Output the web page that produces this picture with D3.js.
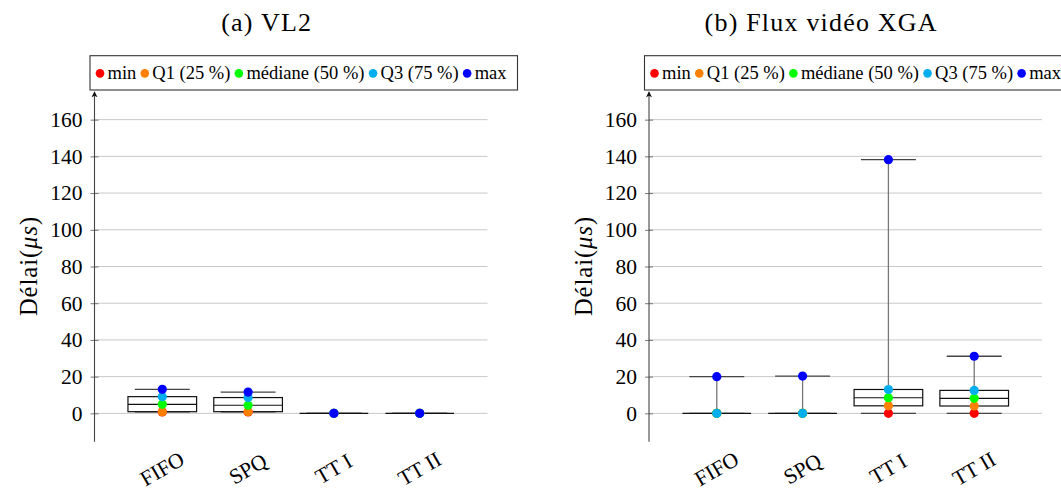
<!DOCTYPE html>
<html>
<head>
<meta charset="utf-8">
<script src="https://cdn.jsdelivr.net/npm/d3@7"></script>
<style>
  html, body { margin: 0; padding: 0; background: #fff; }
  svg { display: block; }
  text { font-family: "Liberation Serif", "Times New Roman", serif; fill: #000; }
</style>
</head>
<body>
<svg id="chart" width="1061" height="501"></svg>
<script>
// ---------- data ----------
const categories = ["FIFO", "SPQ", "TT I", "TT II"];
const legendLabels = ["min", "Q1 (25 %)", "médiane (50 %)", "Q3 (75 %)", "max"];
const legendColors = ["#ff0000", "#ff8000", "#00ff00", "#00aeef", "#0000ff"];
const yTicks = [0, 20, 40, 60, 80, 100, 120, 140, 160];
const panelTitles = ["(a) VL2", "(b) Flux vidéo XGA"];

// panel (a) VL2
const vl2Min    = [0.8, 0.8, 0, 0];
const vl2Q1     = [0.9, 0.9, 0, 0];
const vl2Median = [4.9, 4.4, 0, 0];
const vl2Q3     = [9.1, 8.6, 0, 0];
const vl2Max    = [13.1, 11.6, 0, 0];

// panel (b) Flux vidéo XGA
const xgaMin    = [0, 0, 0, 0];
const xgaQ1     = [0, 0, 4.1, 4.0];
const xgaMedian = [0, 0, 8.5, 8.2];
const xgaQ3     = [0, 0, 13.0, 12.5];
const xgaMax    = [20.0, 20.3, 138.2, 31.1];

const panels = [
  { title: panelTitles[0], min: vl2Min, q1: vl2Q1, med: vl2Median, q3: vl2Q3, max: vl2Max },
  { title: panelTitles[1], min: xgaMin, q1: xgaQ1, med: xgaMedian, q3: xgaQ3, max: xgaMax }
];

// ---------- layout ----------
const svg = d3.select("#chart");
const serif = "'Liberation Serif', 'Times New Roman', serif";
const panelOffset = 554.5;
const axisX = 94.5, plotRight = 487.5;
const yTop = 91.2, yBottom = 441.8;

const x = d3.scaleLinear().domain([0.21, 4.79]).range([axisX, plotRight]);
const y = d3.scaleLinear().domain([-15.5, 175.5]).range([yBottom, yTop]);
const unit = x(1) - x(0);
const boxW = 0.8 * unit;
const capW = 0.64 * unit;

panels.forEach((p, pi) => {
  const g = svg.append("g").attr("transform", `translate(${pi * panelOffset},0)`);

  // title
  g.append("text")
    .attr("x", 266.7).attr("y", 22)
    .attr("text-anchor", "middle").attr("dominant-baseline", "central")
    .style("font-size", "26px").style("letter-spacing", "1.2px")
    .text(p.title);

  // grid
  g.append("g").selectAll("line").data(yTicks).join("line")
    .attr("x1", axisX).attr("x2", plotRight)
    .attr("y1", d => y(d)).attr("y2", d => y(d))
    .attr("stroke", "#c8c8c8").attr("stroke-width", 1);

  // y axis with ticks
  const ax = g.append("g").attr("transform", `translate(${axisX},0)`)
    .call(d3.axisLeft(y).tickValues(yTicks).tickSize(4).tickPadding(8))
    .attr("font-family", serif);
  ax.select(".domain").remove();
  ax.selectAll(".tick line").attr("x1", -4).attr("x2", 4).attr("stroke", "#777");
  ax.selectAll(".tick text").style("font-size", "21.5px")
    .style("font-family", serif).attr("fill", "#000");

  g.append("line")
    .attr("x1", axisX).attr("x2", axisX)
    .attr("y1", y(-15.5)).attr("y2", y(175.5) + 1)
    .attr("stroke", "#444").attr("stroke-width", 1.1);
  const tipY = y(175.5);
  g.append("path")
    .attr("d", `M${axisX},${tipY} L${axisX - 3},${tipY + 6} L${axisX},${tipY + 4.5} L${axisX + 3},${tipY + 6} Z`)
    .attr("fill", "#111");

  // y label
  const yl = g.append("text")
    .attr("transform", `translate(28.3,266) rotate(-90)`)
    .attr("text-anchor", "middle").attr("dominant-baseline", "central")
    .style("font-size", "24.5px").style("letter-spacing", "1px");
  yl.append("tspan").text("Délai(");
  yl.append("tspan").style("font-style", "italic").text("μs");
  yl.append("tspan").text(")");

  // x labels
  g.append("g").selectAll("text").data(categories).join("text")
    .attr("transform", (d, i) => `translate(${x(i + 1)},469) rotate(-30)`)
    .attr("text-anchor", "middle").attr("dominant-baseline", "central")
    .style("font-size", "21.5px")
    .text(d => d);

  // boxes
  const bg = g.append("g");
  categories.forEach((c, i) => {
    const cx = x(i + 1);
    const b = bg.append("g");
    // whiskers
    b.append("line").attr("x1", cx).attr("x2", cx)
      .attr("y1", y(p.q3[i])).attr("y2", y(p.max[i]))
      .attr("stroke", "#777").attr("stroke-width", 1.3);
    b.append("line").attr("x1", cx).attr("x2", cx)
      .attr("y1", y(p.min[i])).attr("y2", y(p.q1[i]))
      .attr("stroke", "#777").attr("stroke-width", 1.3);
    // caps
    [p.max[i], p.min[i]].forEach(v => {
      b.append("line").attr("x1", cx - capW / 2).attr("x2", cx + capW / 2)
        .attr("y1", y(v)).attr("y2", y(v))
        .attr("stroke", "#444").attr("stroke-width", 1.3);
    });
    // box
    b.append("rect")
      .attr("x", cx - boxW / 2).attr("width", boxW)
      .attr("y", y(p.q3[i])).attr("height", Math.max(0, y(p.q1[i]) - y(p.q3[i])))
      .attr("fill", "none").attr("stroke", "#111").attr("stroke-width", 1.2);
    // median
    b.append("line").attr("x1", cx - boxW / 2).attr("x2", cx + boxW / 2)
      .attr("y1", y(p.med[i])).attr("y2", y(p.med[i]))
      .attr("stroke", "#111").attr("stroke-width", 1.2);
    // points
    const vals = [p.min[i], p.q1[i], p.med[i], p.q3[i], p.max[i]];
    b.selectAll("circle").data(vals).join("circle")
      .attr("cx", cx).attr("cy", d => y(d)).attr("r", 4.6)
      .attr("fill", (d, k) => legendColors[k]);
  });

  // legend
  const lg = g.append("g");
  const lx = 90, ly = 55.7, lw = 427.5, lh = 34.3;
  lg.append("rect").attr("x", lx).attr("y", ly).attr("width", lw).attr("height", lh)
    .attr("fill", "#fff").attr("stroke", "#333").attr("stroke-width", 1.1);
  let cur = lx + 10;
  const cy = ly + lh / 2 + 0.5;
  legendLabels.forEach((lab, k) => {
    lg.append("circle").attr("cx", cur).attr("cy", cy).attr("r", 4.3).attr("fill", legendColors[k]);
    const t = lg.append("text").attr("x", cur + 7.5).attr("y", cy)
      .attr("dominant-baseline", "central").style("font-size", "18.5px").text(lab);
    const w = t.node().getComputedTextLength();
    cur = cur + 7.5 + w + 8.5;
  });
});
</script>
</body>
</html>
